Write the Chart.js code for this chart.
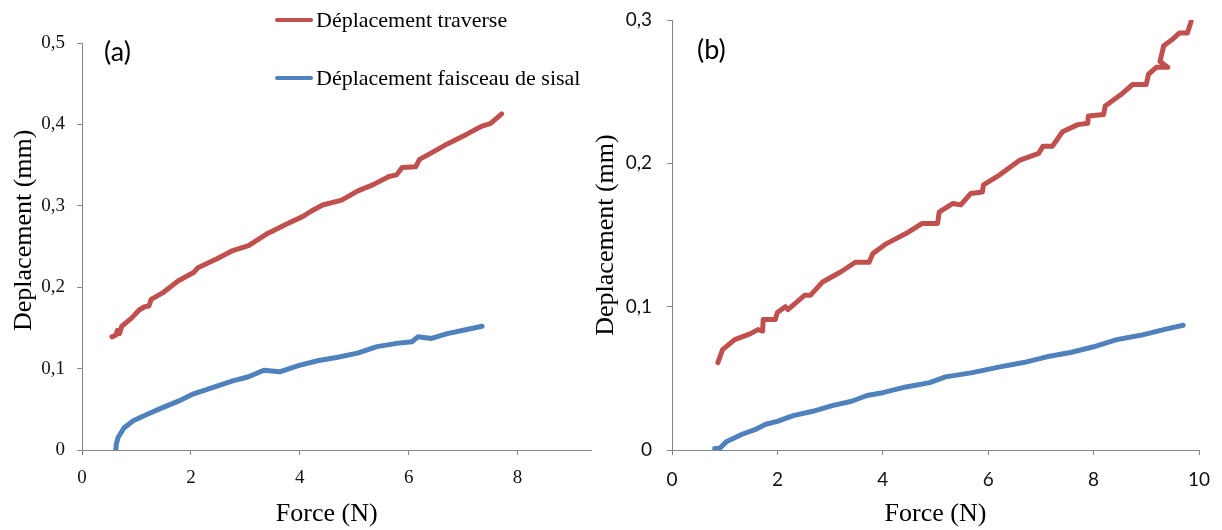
<!DOCTYPE html>
<html>
<head>
<meta charset="utf-8">
<script src="https://cdn.jsdelivr.net/npm/chart.js@4.4.1/dist/chart.umd.min.js"></script>
<style>
  html, body { margin:0; padding:0; background:#fff; }
  body { width:1222px; height:530px; position:relative; overflow:hidden; }
  canvas { position:absolute; top:0; }
  #cA { left:0; }
  #cB { left:585px; }
  .leg { position:absolute; font-family:"Liberation Serif", "Times New Roman", serif; font-size:22px; color:#000; line-height:26px; white-space:nowrap; }
  .sw { position:absolute; width:38px; height:4px; border-radius:2px; }
  .pl { position:absolute; font-family:Lato, "Open Sans", sans-serif; font-size:27px; color:#000; line-height:30px; }
</style>
</head>
<body>
<canvas id="cA" width="600" height="530"></canvas>
<canvas id="cB" width="637" height="530"></canvas>

<div class="sw" style="left:275px; top:18px; background:#C0504D;"></div>
<div class="leg" style="left:316px; top:7px;">Déplacement traverse</div>
<div class="sw" style="left:275px; top:76px; background:#4F81BD;"></div>
<div class="leg" style="left:316px; top:65px;">Déplacement faisceau de sisal</div>

<div class="pl" style="left:104px; top:36px;">(a)</div>
<div class="pl" style="left:697px; top:34px;">(b)</div>

<script>
// ---------- Data ----------
const seriesNames = ['Déplacement traverse', 'Déplacement faisceau de sisal'];

// Panel (a)
const aTraverseX = [0.55,0.62,0.65,0.69,0.73,0.91,1.05,1.15,1.23,1.27,1.48,1.77,2.05,2.13,2.48,2.77,3.06,3.41,3.77,4.06,4.2,4.42,4.77,5.06,5.35,5.64,5.78,5.88,6.13,6.2,6.42,6.71,7.07,7.35,7.5,7.71];
const aTraverseY = [0.139,0.141,0.147,0.143,0.152,0.162,0.172,0.176,0.177,0.185,0.193,0.208,0.218,0.224,0.235,0.245,0.251,0.266,0.278,0.287,0.293,0.301,0.307,0.318,0.326,0.336,0.338,0.347,0.348,0.357,0.365,0.376,0.388,0.398,0.401,0.413];
const aFaisceauX = [0.62,0.63,0.66,0.77,0.94,1.2,1.48,1.77,2.05,2.41,2.77,3.06,3.34,3.63,3.99,4.35,4.7,5.06,5.42,5.78,6.06,6.17,6.42,6.71,7.07,7.35];
const aFaisceauY = [0.000,0.007,0.015,0.027,0.036,0.044,0.052,0.060,0.069,0.077,0.085,0.090,0.098,0.096,0.104,0.110,0.114,0.119,0.127,0.131,0.133,0.139,0.137,0.143,0.148,0.152];

// Panel (b)
const bTraverseX = [0.87,0.96,1.19,1.48,1.63,1.72,1.73,1.96,2.0,2.15,2.2,2.52,2.63,2.85,3.19,3.48,3.74,3.81,4.07,4.44,4.74,5.04,5.07,5.33,5.48,5.67,5.89,5.91,6.22,6.59,6.96,7.04,7.22,7.41,7.70,7.89,7.9,8.19,8.22,8.52,8.74,9.0,9.04,9.19,9.41,9.26,9.33,9.48,9.63,9.78,9.85];
const bTraverseY = [0.061,0.070,0.077,0.081,0.084,0.083,0.091,0.091,0.096,0.100,0.098,0.108,0.108,0.117,0.124,0.131,0.131,0.137,0.144,0.151,0.158,0.158,0.166,0.172,0.171,0.179,0.180,0.185,0.192,0.202,0.207,0.212,0.212,0.222,0.227,0.228,0.233,0.234,0.240,0.248,0.255,0.255,0.262,0.267,0.267,0.271,0.282,0.286,0.291,0.291,0.299];
const bFaisceauX = [0.81,0.9,1.04,1.33,1.56,1.78,2.0,2.3,2.67,3.04,3.41,3.7,4.0,4.44,4.89,5.19,5.70,6.22,6.67,7.11,7.56,8.0,8.44,8.89,9.33,9.7];
const bFaisceauY = [0.001,0.001,0.006,0.011,0.014,0.018,0.020,0.024,0.027,0.031,0.034,0.038,0.040,0.044,0.047,0.051,0.054,0.058,0.061,0.065,0.068,0.072,0.077,0.080,0.084,0.087];

// Axis definitions
const aXMax = 9.35, aYMax = 0.5;
const bXMax = 10,   bYMax = 0.3;
const xStep = 2, yStep = 0.1;
const xTitle = 'Force (N)';
const yTitle = 'Deplacement (mm)';

// ---------- Helpers ----------
const RED = '#C0504D', BLUE = '#4F81BD', AXIS = '#868686';
const pts = (xs, ys) => xs.map((x, i) => ({x, y: ys[i]}));
const commaFmt = v => (Math.abs(v) < 1e-9 ? '0' : v.toFixed(1).replace('.', ','));

function ds(label, xs, ys, color) {
  return { label, data: pts(xs, ys), showLine: true, borderColor: color, backgroundColor: color,
           borderWidth: 5, pointRadius: 0, tension: 0, borderJoinStyle: 'round', borderCapStyle: 'round' };
}

function makeChart(id, cfg) {
  return new Chart(document.getElementById(id), {
    type: 'scatter',
    data: { datasets: [
      ds(seriesNames[0], cfg.trX, cfg.trY, RED),
      ds(seriesNames[1], cfg.fsX, cfg.fsY, BLUE)
    ]},
    options: {
      responsive: false, animation: false, devicePixelRatio: 1,
      layout: { padding: { left: 0, top: cfg.padTop, right: cfg.padRight, bottom: 0 } },
      plugins: { legend: { display: false }, tooltip: { enabled: false } },
      scales: {
        x: {
          type: 'linear', min: 0, max: cfg.xMax,
          ticks: { stepSize: xStep, includeBounds: false, color: '#111', padding: cfg.xTickPad,
                   font: cfg.tickFont, maxRotation: 0, callback: v => String(v) },
          grid: { drawOnChartArea: false, drawTicks: true, tickLength: 5, color: AXIS },
          border: { display: true, color: AXIS, width: 1 },
          title: { display: true, text: cfg.xTitleText, color: '#000', padding: {top:0, bottom:0},
                   font: { family: '"Liberation Serif", "Times New Roman", serif', size: 26 } },
          afterFit: s => { s.height = 80; s.paddingLeft = 0; s.paddingRight = 0; s.paddingTop = 0; s.paddingBottom = 0; }
        },
        y: {
          type: 'linear', min: 0, max: cfg.yMax,
          ticks: { stepSize: yStep, color: '#111', padding: cfg.yTickPad, font: cfg.tickFont, callback: commaFmt },
          grid: { drawOnChartArea: false, drawTicks: true, tickLength: 5, color: AXIS },
          border: { display: true, color: AXIS, width: 1 },
          title: { display: true, text: cfg.yTitleText, color: '#000', padding: {top: cfg.yTitlePad, bottom: 0},
                   font: { family: '"Liberation Serif", "Times New Roman", serif', size: 26 } },
          afterFit: s => { s.width = cfg.yWidth; s.paddingLeft = 0; s.paddingRight = 0; s.paddingTop = 0; s.paddingBottom = 0; }
        }
      }
    }
  });
}

makeChart('cA', {
  trX: aTraverseX, trY: aTraverseY, fsX: aFaisceauX, fsY: aFaisceauY,
  xMax: aXMax, yMax: aYMax, padTop: 43, padRight: 9, yWidth: 82,
  xTickPad: 12, yTickPad: 12, yTitlePad: 9,
  tickFont: { family: '"Liberation Serif", "Times New Roman", serif', size: 19 },
  xTitleText: xTitle + '   ', yTitleText: '     ' + yTitle
});

makeChart('cB', {
  trX: bTraverseX, trY: bTraverseY, fsX: bFaisceauX, fsY: bFaisceauY,
  xMax: bXMax, yMax: bYMax, padTop: 20, padRight: 23, yWidth: 87,
  xTickPad: 13, yTickPad: 15, yTitlePad: 6,
  tickFont: { family: 'Lato, "Open Sans", sans-serif', size: 19 },
  xTitleText: xTitle, yTitleText: yTitle
});
</script>
</body>
</html>
